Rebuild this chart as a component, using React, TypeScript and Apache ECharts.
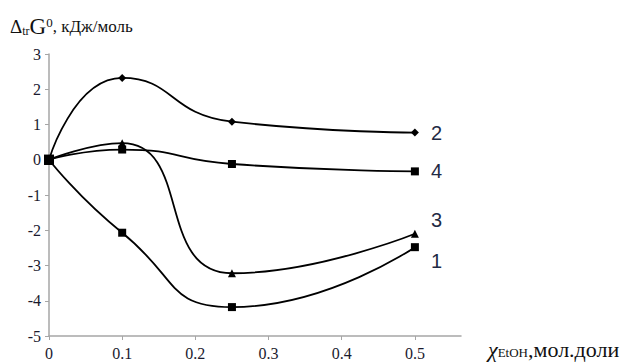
import React, { useEffect, useRef } from "react";
import * as echarts from "echarts";

const xValues = [0, 0.1, 0.25, 0.5];
const series1 = [0, -2.07, -4.18, -2.48];
const series2 = [0, 2.32, 1.08, 0.77];
const series3 = [0, 0.47, -3.22, -2.1];
const series4 = [0, 0.29, -0.12, -0.33];
const seriesNames = ["1", "2", "3", "4"];
const xTicks = [0, 0.1, 0.2, 0.3, 0.4, 0.5];

const SERIF = "Liberation Serif";

export default function App() {
  const ref = useRef<HTMLDivElement>(null);
  useEffect(() => {
    const chart = echarts.init(ref.current!, undefined, { renderer: "svg" });
    const mk = (name: string, vals: number[], symbol: string, size: number) => ({
      name,
      type: "line",
      smooth: 0.55,
      smoothConstraint: false,
      symbol,
      symbolSize: (_v: any, p: any) => (p.dataIndex === 0 ? 10 : size),
      showAllSymbol: true,
      lineStyle: { color: "#000", width: 1.8 },
      itemStyle: { color: "#000" },
      data: xValues.map((x, i) => [x, vals[i]]),
      endLabel: {
        show: true,
        formatter: name,
        color: "#1f2a44",
        fontFamily: "Liberation Sans",
        fontSize: 20,
        offset: [8, name === "3" ? -14 : name === "1" ? 14 : 0],
      },
    });
    chart.setOption({
      animation: false,
      grid: { left: 49, top: 54, right: 159, bottom: 27 },
      xAxis: {
        type: "value",
        min: 0,
        max: 0.563,
        splitLine: { show: false },
        axisLine: { show: true, onZero: false, lineStyle: { color: "#a6a6a6", width: 1.5 } },
        axisTick: { show: true, length: 4, customValues: xTicks, lineStyle: { color: "#a6a6a6" } },
        axisLabel: {
          customValues: xTicks,
          color: "#1a1a2e",
          fontFamily: SERIF,
          fontSize: 16,
          margin: 9,
          formatter: (v: number) => String(Math.round(v * 10) / 10),
        },
      },
      yAxis: {
        type: "value",
        min: -5,
        max: 3,
        interval: 1,
        splitLine: { show: false },
        axisLine: { show: true, onZero: false, lineStyle: { color: "#a6a6a6", width: 1.5 } },
        axisTick: { show: true, length: 4, lineStyle: { color: "#a6a6a6" } },
        axisLabel: {
          color: "#1a1a2e",
          fontFamily: SERIF,
          fontSize: 16,
          margin: 8,
        },
      },
      graphic: [
        {
          type: "text",
          left: 10,
          top: 15,
          style: {
            text: "{d|Δ}{s|tr}{g|G}{p|0}{t|, кДж/моль}",
            rich: {
              d: { fontFamily: SERIF, fontSize: 19, fill: "#111" },
              s: { fontFamily: SERIF, fontSize: 12, fill: "#111", padding: [8, 0, 0, 0] },
              g: { fontFamily: SERIF, fontSize: 23, fill: "#111" },
              p: { fontFamily: SERIF, fontSize: 13, fill: "#111", padding: [0, 0, 8, 0] },
              t: { fontFamily: SERIF, fontSize: 17, fill: "#111" },
            },
          },
        },
        {
          type: "text",
          left: 488,
          top: 338,
          style: {
            text: "{c|χ}{s|EtOH}{t|,мол.доли}",
            rich: {
              c: { fontFamily: SERIF, fontSize: 22, fontStyle: "italic", fill: "#111" },
              s: { fontFamily: SERIF, fontSize: 13, fill: "#111", padding: [6, 0, 0, 0] },
              t: { fontFamily: SERIF, fontSize: 22, fill: "#111" },
            },
          },
        },
      ],
      series: [
        mk(seriesNames[0], series1, "rect", 8),
        mk(seriesNames[1], series2, "diamond", 8),
        mk(seriesNames[2], series3, "triangle", 8),
        mk(seriesNames[3], series4, "rect", 8),
      ],
    });
    return () => chart.dispose();
  }, []);
  return (
    <div
      ref={ref}
      style={{ position: "absolute", left: 0, top: 0, width: 620, height: 363, background: "#fff" }}
    />
  );
}
